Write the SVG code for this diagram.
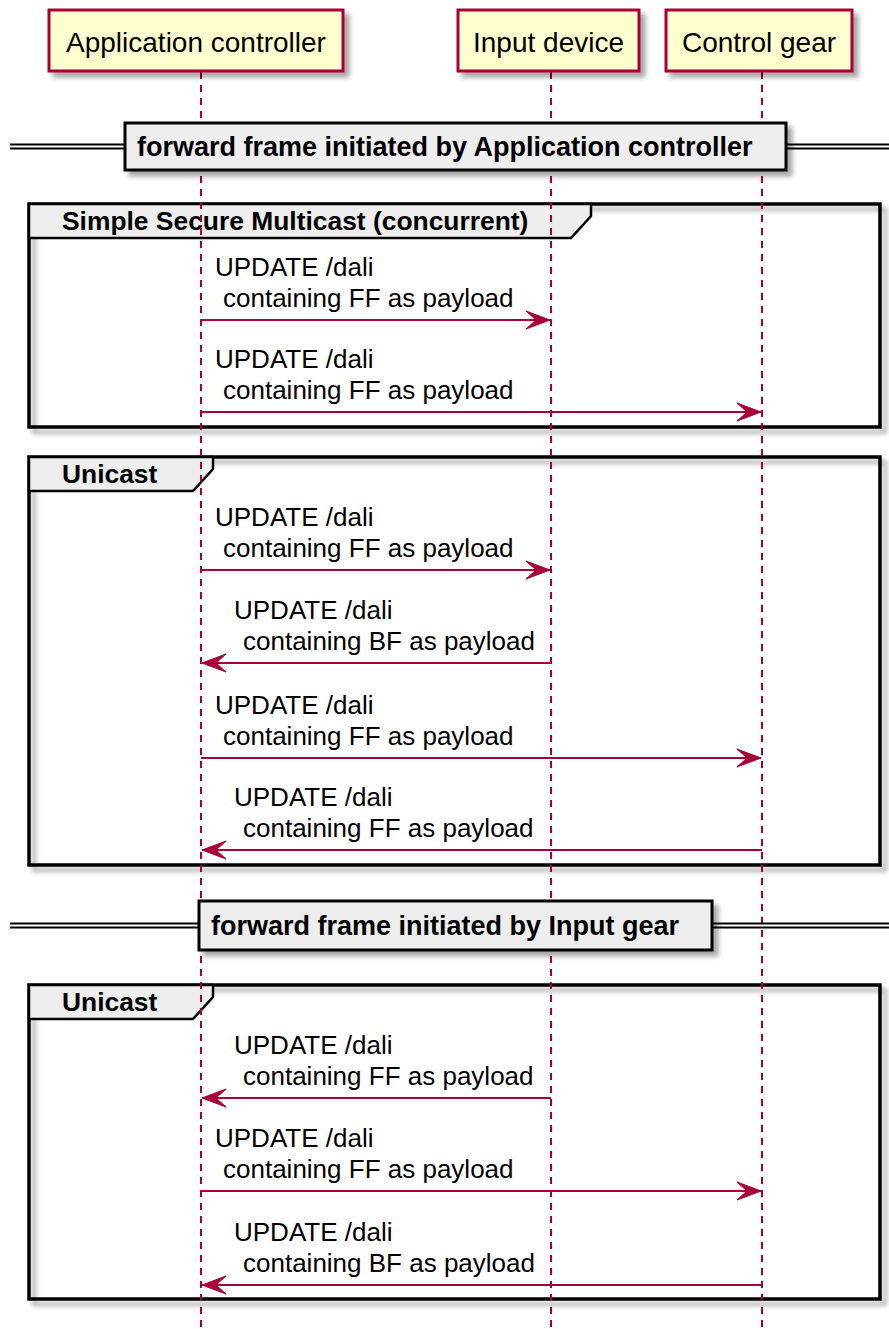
<svg xmlns="http://www.w3.org/2000/svg" width="889" height="1329" viewBox="0 0 889 1329">
<style>
.pbox{fill:#FEFECE;stroke:#A80036;stroke-width:3}
.ptxt{font-family:"Liberation Sans",Arial,sans-serif;font-size:28px;fill:#000;text-anchor:middle}
.life{stroke:#A80036;stroke-width:2;stroke-dasharray:7 6;fill:none}
.frame{fill:none;stroke:#000;stroke-width:3.5}
.tab{fill:#EEEEEE;stroke:#000;stroke-width:2.5}
.btxt{font-family:"Liberation Sans",Arial,sans-serif;font-size:26.4px;font-weight:bold;fill:#000}
.dtxt{font-family:"Liberation Sans",Arial,sans-serif;font-size:27px;font-weight:bold;fill:#000}
.dbox{fill:#EEEEEE;stroke:#000;stroke-width:3}
.dline{stroke:#000;stroke-width:2}
.msg{stroke:#A80036;stroke-width:2;fill:none;marker-end:url(#ah)}
.mtxt{font-family:"Liberation Sans",Arial,sans-serif;font-size:26px;fill:#000}
</style>
<defs>
<filter id="sh" x="-5%" y="-5%" width="115%" height="130%">
<feGaussianBlur in="SourceAlpha" stdDeviation="2.5"/>
<feOffset dx="5" dy="5" result="o"/>
<feComponentTransfer><feFuncA type="linear" slope="0.35"/></feComponentTransfer>
<feMerge><feMergeNode/><feMergeNode in="SourceGraphic"/></feMerge>
</filter>
<marker id="ah" viewBox="0 0 26 20" markerWidth="26" markerHeight="20" refX="25" refY="10" orient="auto" markerUnits="userSpaceOnUse">
<path d="M25,10 L1,1 L11,10 L1,19 Z" fill="#A80036" stroke="#A80036" stroke-width="1" stroke-linejoin="round"/>
</marker>
</defs>
<rect width="889" height="1329" fill="#FFFFFF"/>

<g id="group-simple-secure-multicast">
<rect class="frame" x="29" y="204" width="851" height="223" filter="url(#sh)"/>
<path class="tab" d="M29,204 L591,204 L591,216 L571,238 L29,238 Z"/>
<text class="btxt" x="62" y="230">Simple Secure Multicast (concurrent)</text>
</g>
<g id="group-unicast-1">
<rect class="frame" x="29" y="457" width="851" height="408" filter="url(#sh)"/>
<path class="tab" d="M29,457 L213,457 L213,469 L193,491 L29,491 Z"/>
<text class="btxt" x="62" y="483">Unicast</text>
</g>
<g id="group-unicast-2">
<rect class="frame" x="29" y="985" width="851" height="314" filter="url(#sh)"/>
<path class="tab" d="M29,985 L213,985 L213,997 L193,1019 L29,1019 Z"/>
<text class="btxt" x="62" y="1011">Unicast</text>
</g>

<g id="lifelines">
<line class="life" x1="201" y1="72" x2="201" y2="1329"/>
<line class="life" x1="551" y1="72" x2="551" y2="1329"/>
<line class="life" x1="762" y1="72" x2="762" y2="1329"/>
</g>

<g id="participant-application-controller">
<rect class="pbox" x="49" y="10" width="294" height="61" filter="url(#sh)"/>
<text class="ptxt" x="196" y="52">Application controller</text>
</g>
<g id="participant-input-device">
<rect class="pbox" x="458" y="10" width="181" height="61" filter="url(#sh)"/>
<text class="ptxt" x="548.5" y="52">Input device</text>
</g>
<g id="participant-control-gear">
<rect class="pbox" x="666" y="10" width="186" height="61" filter="url(#sh)"/>
<text class="ptxt" x="759" y="52">Control gear</text>
</g>

<g id="divider-application-controller">
<line class="dline" x1="10" y1="144.5" x2="889" y2="144.5"/>
<line class="dline" x1="10" y1="148.5" x2="889" y2="148.5"/>
<rect class="dbox" x="125" y="123" width="661" height="47" filter="url(#sh)"/>
<text class="dtxt" x="137" y="156">forward frame initiated by Application controller</text>
</g>
<g id="divider-input-gear">
<line class="dline" x1="10" y1="923.5" x2="889" y2="923.5"/>
<line class="dline" x1="10" y1="927.5" x2="889" y2="927.5"/>
<rect class="dbox" x="199" y="901" width="513" height="49" filter="url(#sh)"/>
<text class="dtxt" x="211" y="935">forward frame initiated by Input gear</text>
</g>

<g id="connectors">
<line class="msg" x1="201" y1="320" x2="550" y2="320"/>
<text class="mtxt" x="215" y="276">UPDATE /dali</text>
<text class="mtxt" x="223" y="307">containing FF as payload</text>

<line class="msg" x1="201" y1="412" x2="761" y2="412"/>
<text class="mtxt" x="215" y="368">UPDATE /dali</text>
<text class="mtxt" x="223" y="399">containing FF as payload</text>

<line class="msg" x1="201" y1="570" x2="550" y2="570"/>
<text class="mtxt" x="215" y="526">UPDATE /dali</text>
<text class="mtxt" x="223" y="557">containing FF as payload</text>

<line class="msg" x1="551" y1="663" x2="202" y2="663"/>
<text class="mtxt" x="234" y="619">UPDATE /dali</text>
<text class="mtxt" x="243" y="650">containing BF as payload</text>

<line class="msg" x1="201" y1="758" x2="761" y2="758"/>
<text class="mtxt" x="215" y="714">UPDATE /dali</text>
<text class="mtxt" x="223" y="745">containing FF as payload</text>

<line class="msg" x1="762" y1="850" x2="202" y2="850"/>
<text class="mtxt" x="234" y="806">UPDATE /dali</text>
<text class="mtxt" x="243" y="837">containing FF as payload</text>

<line class="msg" x1="551" y1="1098" x2="202" y2="1098"/>
<text class="mtxt" x="234" y="1054">UPDATE /dali</text>
<text class="mtxt" x="243" y="1085">containing FF as payload</text>

<line class="msg" x1="201" y1="1191" x2="761" y2="1191"/>
<text class="mtxt" x="215" y="1147">UPDATE /dali</text>
<text class="mtxt" x="223" y="1178">containing FF as payload</text>

<line class="msg" x1="762" y1="1285" x2="202" y2="1285"/>
<text class="mtxt" x="234" y="1241">UPDATE /dali</text>
<text class="mtxt" x="243" y="1272">containing BF as payload</text>
</g>
</svg>
